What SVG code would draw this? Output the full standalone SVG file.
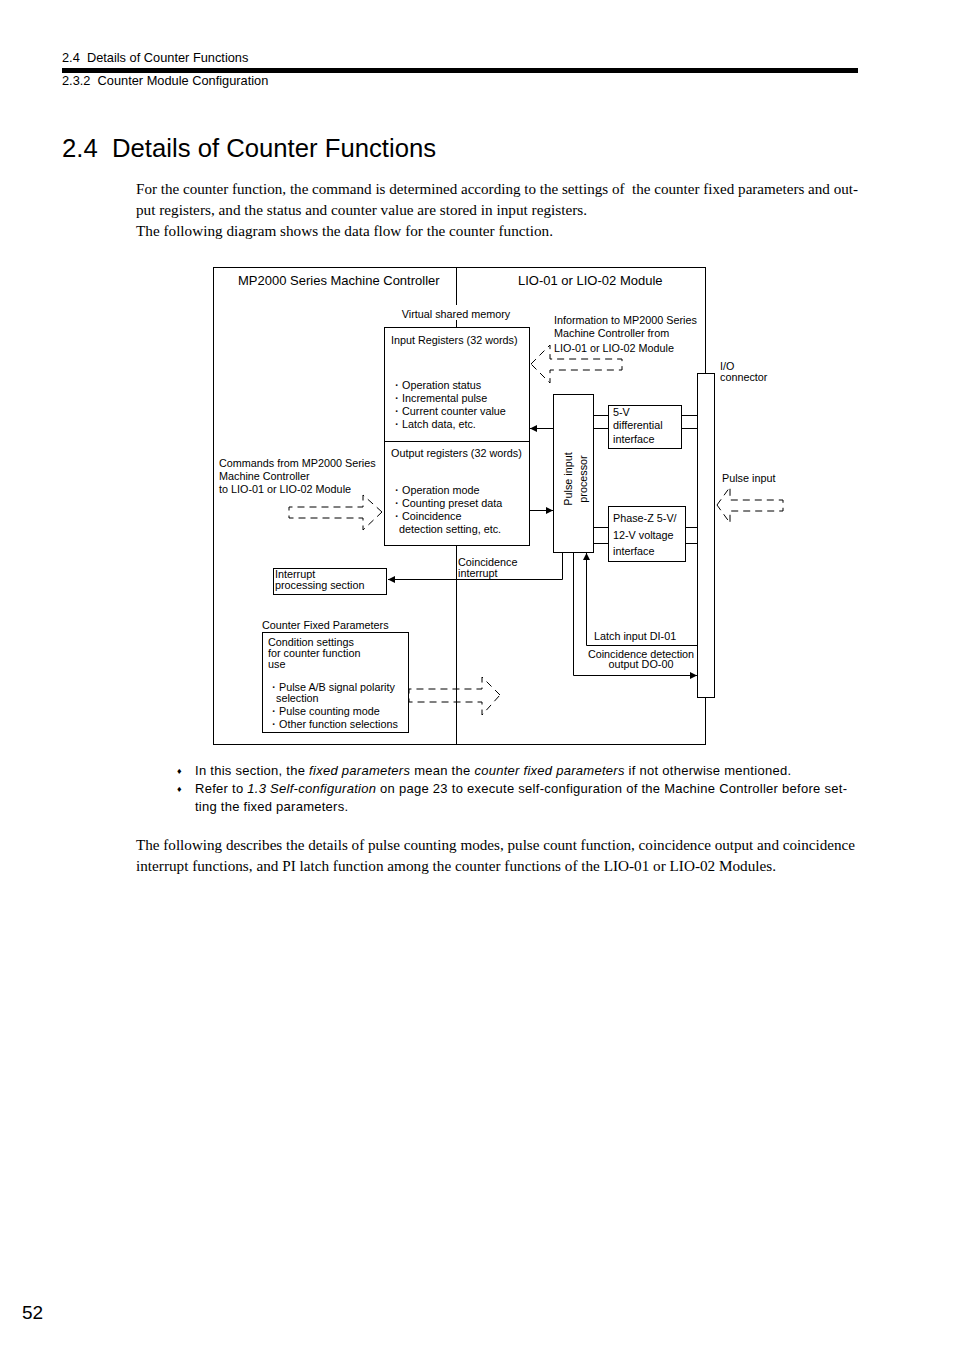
<svg xmlns="http://www.w3.org/2000/svg" width="954" height="1350" viewBox="0 0 954 1350">
<style>
.s{font-family:"Liberation Sans",Arial,sans-serif;fill:#000}
.d{font-family:"Liberation Sans",Arial,sans-serif;font-size:10.8px;fill:#000}
.h{font-family:"Liberation Sans",Arial,sans-serif;font-size:13px;fill:#000}
.t{font-family:"Liberation Serif","Times New Roman",serif;font-size:14.5px;fill:#000}
.b{font-family:"Liberation Sans",Arial,sans-serif;font-size:13px;fill:#000}
.ln{stroke:#000;stroke-width:1;fill:none}
.bx{stroke:#000;stroke-width:1;fill:#fff}
.ds{stroke:#000;stroke-width:1;fill:none;stroke-dasharray:7,5}
</style>
<defs>
<marker id="ah" viewBox="0 0 10 10" refX="10" refY="5" markerWidth="9" markerHeight="7" markerUnits="userSpaceOnUse" orient="auto">
<path d="M0,0 L10,5 L0,10 z" fill="#000"/>
</marker>
</defs>
<rect width="954" height="1350" fill="#fff"/>

<!-- page header -->
<text class="s" x="62" y="62" font-size="12.8" xml:space="preserve">2.4  Details of Counter Functions</text>
<rect x="62" y="68" width="796" height="5" fill="#000"/>
<text class="s" x="62" y="85" font-size="12.8" xml:space="preserve">2.3.2  Counter Module Configuration</text>
<text class="s" x="62" y="157" font-size="25.7" xml:space="preserve">2.4  Details of Counter Functions</text>

<text class="t" x="136" y="194" textLength="722" lengthAdjust="spacingAndGlyphs" xml:space="preserve">For the counter function, the command is determined according to the settings of  the counter fixed parameters and out-</text>
<text class="t" x="136" y="215" textLength="451" lengthAdjust="spacingAndGlyphs">put registers, and the status and counter value are stored in input registers.</text>
<text class="t" x="136" y="236" textLength="417" lengthAdjust="spacingAndGlyphs">The following diagram shows the data flow for the counter function.</text>

<!-- frame -->
<g id="frame">
<rect class="ln" x="213.5" y="267.5" width="492" height="477"/>
<line class="ln" x1="456.5" y1="267" x2="456.5" y2="305"/>
<line class="ln" x1="456.5" y1="320" x2="456.5" y2="327"/>
<line class="ln" x1="456.5" y1="545" x2="456.5" y2="745"/>
<text class="h" x="238" y="285">MP2000 Series Machine Controller</text>
<text class="h" x="518" y="285">LIO-01 or LIO-02 Module</text>
<text class="d" x="456" y="318" text-anchor="middle">Virtual shared memory</text>
</g>

<!-- connectors -->
<g id="connectors">
<line class="ln" x1="553" y1="428.5" x2="530" y2="428.5" marker-end="url(#ah)"/>
<line class="ln" x1="529" y1="510.5" x2="553" y2="510.5" marker-end="url(#ah)"/>
<polyline class="ln" points="562.5,552 562.5,579.5 388,579.5" marker-end="url(#ah)"/>
<polyline class="ln" points="573.5,552 573.5,675.5 697,675.5" marker-end="url(#ah)"/>
<polyline class="ln" points="697,645.5 586.5,645.5 586.5,553" marker-end="url(#ah)"/>
<line class="ln" x1="593" y1="415.5" x2="608" y2="415.5"/>
<line class="ln" x1="593" y1="428.5" x2="608" y2="428.5"/>
<line class="ln" x1="681" y1="415.5" x2="697" y2="415.5"/>
<line class="ln" x1="681" y1="428.5" x2="697" y2="428.5"/>
<line class="ln" x1="593" y1="527.5" x2="608" y2="527.5"/>
<line class="ln" x1="593" y1="543.5" x2="608" y2="543.5"/>
<line class="ln" x1="686" y1="527.5" x2="697" y2="527.5"/>
<line class="ln" x1="686" y1="543.5" x2="697" y2="543.5"/>
<!-- dashed block arrows -->
<path class="ds" d="M531,364 L550,345 L550,359 L622,359 L622,370 L550,370 L550,383 Z"/>
<path class="ds" d="M382,512 L363,495 L363,507 L289,507 L289,518 L363,518 L363,530 Z"/>
<path class="ds" d="M717,505 L730,487 L730,500 L783,500 L783,511 L730,511 L730,523 Z"/>
<path class="ds" d="M500,695 L482,677 L482,689 L409,689 L409,702 L482,702 L482,715 Z"/>
<text class="d" x="458" y="566">Coincidence</text>
<text class="d" x="458" y="577">interrupt</text>
<text class="d" x="594" y="640">Latch input DI-01</text>
<text class="d" x="641" y="658" text-anchor="middle">Coincidence detection</text>
<text class="d" x="641" y="668" text-anchor="middle">output DO-00</text>
<text class="d" x="554" y="324">Information to MP2000 Series</text>
<text class="d" x="554" y="337">Machine Controller from</text>
<text class="d" x="554" y="352">LIO-01 or LIO-02 Module</text>
<text class="d" x="219" y="467">Commands from MP2000 Series</text>
<text class="d" x="219" y="480">Machine Controller</text>
<text class="d" x="219" y="493">to LIO-01 or LIO-02 Module</text>
<text class="d" x="722" y="482">Pulse input</text>
</g>

<g id="registers">
<rect class="bx" x="384.5" y="327.5" width="145" height="218"/>
<line class="ln" x1="384.5" y1="441.5" x2="529.5" y2="441.5"/>
<text class="d" x="391" y="344">Input Registers (32 words)</text>
<text class="d" x="391" y="389">・Operation status</text>
<text class="d" x="391" y="402">・Incremental pulse</text>
<text class="d" x="391" y="415">・Current counter value</text>
<text class="d" x="391" y="428">・Latch data, etc.</text>
<text class="d" x="391" y="457">Output registers (32 words)</text>
<text class="d" x="391" y="494">・Operation mode</text>
<text class="d" x="391" y="507">・Counting preset data</text>
<text class="d" x="391" y="520">・Coincidence</text>
<text class="d" x="399" y="533">detection setting, etc.</text>
</g>

<g id="processor">
<rect class="bx" x="553.5" y="394.5" width="40" height="158"/>
<text class="d" transform="translate(572,479) rotate(-90)" text-anchor="middle">Pulse input</text>
<text class="d" transform="translate(587,479) rotate(-90)" text-anchor="middle">processor</text>
</g>

<g id="diff5v">
<rect class="bx" x="608.5" y="405.5" width="73" height="43"/>
<text class="d" x="613" y="416">5-V</text>
<text class="d" x="613" y="429">differential</text>
<text class="d" x="613" y="443">interface</text>
</g>

<g id="phasez">
<rect class="bx" x="608.5" y="506.5" width="77" height="55"/>
<text class="d" x="613" y="522">Phase-Z 5-V/</text>
<text class="d" x="613" y="539">12-V voltage</text>
<text class="d" x="613" y="555">interface</text>
</g>

<g id="ioconnector">
<rect class="bx" x="697.5" y="373.5" width="17" height="324"/>
<text class="d" x="720" y="370">I/O</text>
<text class="d" x="720" y="381">connector</text>
</g>

<g id="interrupt">
<rect class="bx" x="273.5" y="568.5" width="113" height="26"/>
<text class="d" x="275" y="578">Interrupt</text>
<text class="d" x="275" y="589">processing section</text>
</g>

<g id="fixedparams">
<text class="d" x="262" y="629">Counter Fixed Parameters</text>
<rect class="bx" x="262.5" y="632.5" width="146" height="100"/>
<text class="d" x="268" y="646">Condition settings</text>
<text class="d" x="268" y="657">for counter function</text>
<text class="d" x="268" y="668">use</text>
<text class="d" x="268" y="691">・Pulse A/B signal polarity</text>
<text class="d" x="276" y="702">selection</text>
<text class="d" x="268" y="715">・Pulse counting mode</text>
<text class="d" x="268" y="728">・Other function selections</text>
</g>

<!-- notes -->
<text class="s" x="177" y="774" font-size="9">♦</text>
<text class="b" x="195" y="775" textLength="596" lengthAdjust="spacing">In this section, the <tspan font-style="italic">fixed parameters</tspan> mean the <tspan font-style="italic">counter fixed parameters</tspan> if not otherwise mentioned.</text>
<text class="s" x="177" y="792" font-size="9">♦</text>
<text class="b" x="195" y="793" textLength="652" lengthAdjust="spacing">Refer to <tspan font-style="italic">1.3 Self-configuration</tspan> on page 23 to execute self-configuration of the Machine Controller before set-</text>
<text class="b" x="195" y="811" textLength="153" lengthAdjust="spacing">ting the fixed parameters.</text>

<text class="t" x="136" y="850" textLength="719" lengthAdjust="spacingAndGlyphs">The following describes the details of pulse counting modes, pulse count function, coincidence output and coincidence</text>
<text class="t" x="136" y="871" textLength="640" lengthAdjust="spacingAndGlyphs">interrupt functions, and PI latch function among the counter functions of the LIO-01 or LIO-02 Modules.</text>

<text class="s" x="22" y="1319" font-size="19">52</text>
</svg>
